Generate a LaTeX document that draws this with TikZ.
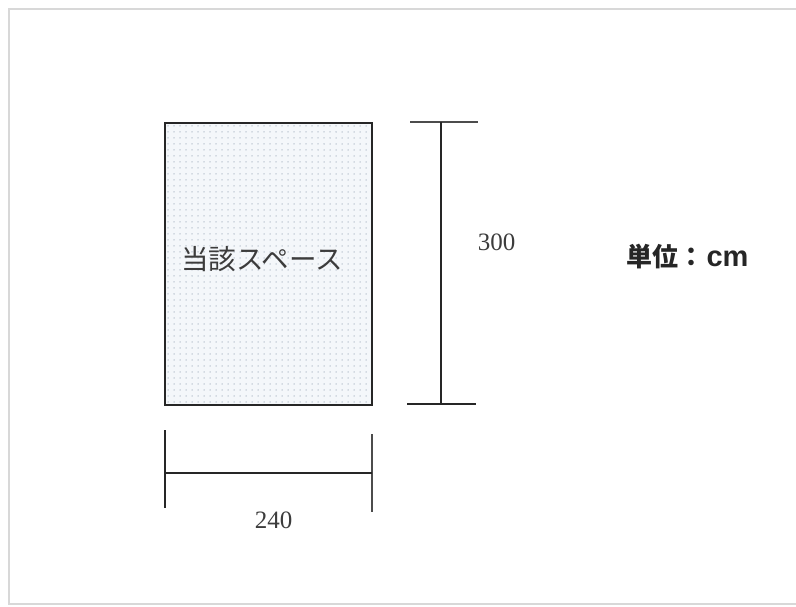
\documentclass[tikz,border=0pt]{standalone}
\usepackage{fontspec}
\setmainfont{Liberation Serif}
\newfontfamily\jp{Noto Sans CJK JP}
\newfontfamily\arialb{Liberation Sans}
\usetikzlibrary{patterns.meta}
\definecolor{framegray}{RGB}{216,216,216}
\definecolor{fillbg}{RGB}{244,247,250}
\definecolor{dotc}{RGB}{178,190,202}
\definecolor{txt}{RGB}{60,60,60}
\tikzset{
  dimline/.style={draw=black!85, line width=1.5pt},
  tickline/.style={draw=black!70, line width=1.8pt},
  numlabel/.style={font=\fontsize{25}{27}\selectfont, text=txt, inner sep=0pt},
  space/.style={draw=black!85, line width=2pt, fill=fillbg, minimum width=207pt, minimum height=282pt, inner sep=0pt, outer sep=0pt}
}
\begin{document}
\begin{tikzpicture}[x=1pt,y=-1pt]
\useasboundingbox (0,0) rectangle (796,606);
% frame
\draw[framegray, line width=2pt] (809,9) -- (9,9) -- (9,604) -- (809,604);
% the space
\node[space] (box) at (268.5,263.5) {};
\fill[pattern={Dots[distance=6pt, radius=0.75pt]}, pattern color=dotc] (box.south west) rectangle (box.north east);
\draw[black!85, line width=2pt] (box.south west) rectangle (box.north east);
\node[font=\jp\fontsize{27.5}{29}\selectfont, text=txt, inner sep=0pt] (lbl) at (262,259) {当該スペース};
% vertical dimension
\coordinate (t1) at (410,122); \coordinate (t2) at (478,122);
\coordinate (b1) at (407,404); \coordinate (b2) at (476,404);
\coordinate (vt) at (441,122); \coordinate (vb) at (441,404);
\draw[tickline] (t1) -- (t2);
\draw[dimline] (b1) -- (b2);
\draw[dimline] (vt) -- (vb);
\node[numlabel] (h) at (496.5,242) {300};
% horizontal dimension
\coordinate (l1) at (165,430); \coordinate (l2) at (165,508);
\coordinate (r1) at (372,434); \coordinate (r2) at (372,512);
\coordinate (hl) at (165,473); \coordinate (hr) at (372,473);
\draw[dimline] (l1) -- (l2);
\draw[tickline] (r1) -- (r2);
\draw[dimline] (hl) -- (hr);
\node[numlabel] (w) at (273.5,520) {240};
% unit
\node[inner sep=0pt, text=black!85] (unit) at (687.5,257) {\jp\bfseries\fontsize{26}{28}\selectfont 単位：\hspace{2pt}\arialb\bfseries\fontsize{29}{30}\selectfont cm};
\end{tikzpicture}
\end{document}
